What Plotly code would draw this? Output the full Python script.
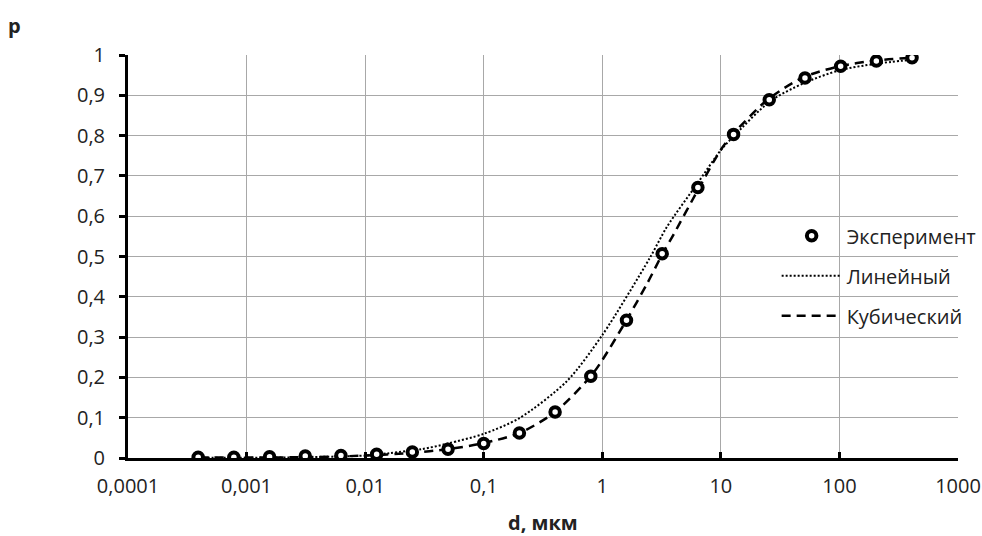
import plotly.graph_objects as go

# Experimental data
d_exp = [0.000390625, 0.00078125, 0.0015625, 0.003125, 0.00625, 0.0125, 0.025, 0.05,
         0.1, 0.2, 0.4, 0.8, 1.6, 3.2, 6.4, 12.8, 25.6, 51.2, 102.4, 204.8, 409.6]
p_exp = [0.002, 0.002, 0.003, 0.005, 0.006, 0.009, 0.015, 0.022,
         0.036, 0.062, 0.114, 0.203, 0.342, 0.507, 0.671, 0.803, 0.889, 0.943, 0.972, 0.985, 0.993]

# "Linear" fit curve (dotted)
d_lin = [0.0004, 0.001, 0.003, 0.01, 0.016, 0.03, 0.05, 0.1, 0.2, 0.5, 1, 2.5, 3.5,
         6.3, 10, 12.7, 26, 50, 100, 200, 400]
p_lin = [0.0003, 0.0007, 0.002, 0.006, 0.012, 0.022, 0.036, 0.06, 0.099, 0.19, 0.305, 0.495, 0.573,
         0.68, 0.764, 0.797, 0.885, 0.93, 0.962, 0.978, 0.988]

# "Cubic" fit curve (dashed)
d_cub = [0.0004, 0.001, 0.003, 0.01, 0.025, 0.05, 0.1, 0.2, 0.4, 0.8, 1, 1.6, 2.4, 3.2, 4,
         6.4, 10, 12.8, 25, 50, 100, 200, 400]
p_cub = [0.001, 0.001, 0.002, 0.006, 0.013, 0.022, 0.037, 0.062, 0.114, 0.203, 0.243, 0.342, 0.434, 0.505, 0.555,
         0.665, 0.765, 0.805, 0.89, 0.945, 0.972, 0.986, 0.993]

x_tickvals = [0.0001, 0.001, 0.01, 0.1, 1, 10, 100, 1000]
x_ticktext = ["0,0001", "0,001", "0,01", "0,1", "1", "10", "100", "1000"]
y_tickvals = [0, 0.1, 0.2, 0.3, 0.4, 0.5, 0.6, 0.7, 0.8, 0.9, 1]
y_ticktext = ["0", "0,1", "0,2", "0,3", "0,4", "0,5", "0,6", "0,7", "0,8", "0,9", "1"]

FONT = "Open Sans"

fig = go.Figure()
fig.add_trace(go.Scatter(
    x=d_lin, y=p_lin, mode="lines", name="Линейный", legendrank=2, legendgroup="b",
    line=dict(color="black", width=2, dash="2px,2px", shape="spline", smoothing=0.8),
))
fig.add_trace(go.Scatter(
    x=d_cub, y=p_cub, mode="lines", name="Кубический", legendrank=3, legendgroup="c",
    line=dict(color="black", width=2.5, dash="9px,6px", shape="spline", smoothing=0.8),
))
fig.add_trace(go.Scatter(
    x=d_exp, y=p_exp, mode="markers", name="Эксперимент", legendrank=1, legendgroup="a",
    marker=dict(symbol="circle", size=9.5, color="white", line=dict(color="black", width=4)),
))

fig.update_layout(
    width=982, height=536,
    margin=dict(l=128, r=24, t=55, b=78, autoexpand=False),
    paper_bgcolor="white", plot_bgcolor="white",
    font=dict(family=FONT, size=20, color="#222"),
    showlegend=True,
    legend=dict(
        x=0.7815, xanchor="left", y=0.6, yanchor="top",
        bgcolor="rgba(0,0,0,0)", borderwidth=0,
        itemwidth=60, tracegroupgap=11, traceorder="grouped",
        font=dict(family=FONT, size=20, color="#222"),
    ),
    xaxis=dict(
        type="log", range=[-4, 3], automargin=False,
        tickvals=x_tickvals, ticktext=x_ticktext,
        showgrid=True, gridcolor="#a8a8a8", gridwidth=1,
        showline=True, linecolor="black", linewidth=3,
        ticks="inside", ticklen=6, tickwidth=3, tickcolor="black",
        zeroline=False, ticklabelstandoff=8,
    ),
    yaxis=dict(
        range=[0, 1], automargin=False,
        tickvals=y_tickvals, ticktext=y_ticktext,
        showgrid=True, gridcolor="#a8a8a8", gridwidth=1,
        showline=True, linecolor="black", linewidth=3,
        ticks="outside", ticklen=6, tickwidth=3, tickcolor="black",
        zeroline=False, ticklabelstandoff=10,
    ),
    annotations=[
        dict(text="<b>p</b>", xref="paper", yref="paper", x=-0.137, y=1.074,
             xanchor="center", yanchor="middle", showarrow=False,
             font=dict(family=FONT, size=20, color="#222")),
        dict(text="<b>d, мкм</b>", xref="paper", yref="paper", x=0.5, y=-0.159,
             xanchor="center", yanchor="middle", showarrow=False,
             font=dict(family=FONT, size=20, color="#222")),
    ],
)

fig.write_html("out.html")
